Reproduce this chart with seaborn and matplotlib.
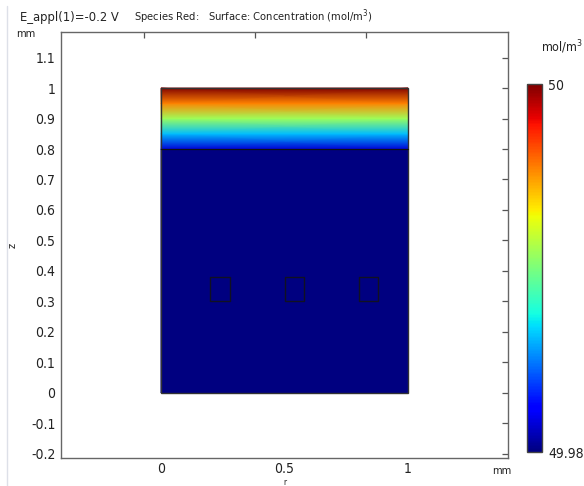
import numpy as np
import matplotlib
matplotlib.use("Agg")
import matplotlib.pyplot as plt
from matplotlib.patches import Rectangle
from matplotlib.colors import Normalize
import seaborn as sns

# Concentration of species Red (mol/m^3)
c_min, c_max = 49.98, 50.0
bulk_conc = 49.98                      # electrolyte below z = 0.8 mm
z_profile = [0.80, 0.85, 0.90, 0.95, 1.00]   # mm, diffusion layer
c_profile = [49.9815, 49.9862, 49.9908, 49.9954, 50.0]
domain_r = [0.0, 1.0]
domain_z = [0.0, 1.0]
# electrode squares (r0, z0) with side length in mm
electrode_r = [0.20, 0.50, 0.80]
electrode_z = [0.30, 0.30, 0.30]
electrode_w, electrode_h = 0.08, 0.08

x_ticks = [0, 0.5, 1]
x_ticklabels = ["0", "0.5", "1"]
y_ticks = [-0.2, -0.1, 0, 0.1, 0.2, 0.3, 0.4, 0.5, 0.6, 0.7, 0.8, 0.9, 1.0, 1.1]
y_ticklabels = ["-0.2", "-0.1", "0", "0.1", "0.2", "0.3", "0.4", "0.5",
                "0.6", "0.7", "0.8", "0.9", "1", "1.1"]

sns.set_theme(style="white")
plt.rcParams["font.family"] = ["DejaVu Sans"]
plt.rcParams["font.stretch"] = "condensed"

W, H = 584, 486
fig = plt.figure(figsize=(W / 100, H / 100), dpi=100)
ax = fig.add_axes([61 / W, 1 - 458 / H, (508 - 61) / W, (458 - 32) / H])

cmap = matplotlib.colormaps["jet"]
norm = Normalize(vmin=c_min, vmax=c_max)

# bulk region
rr, zz = np.meshgrid(domain_r, [domain_z[0], z_profile[0]])
ax.pcolormesh(rr, zz, np.full(rr.shape, bulk_conc), cmap=cmap, norm=norm,
              shading="gouraud", rasterized=True)
# diffusion layer
rr2, zz2 = np.meshgrid(domain_r, z_profile)
cc2 = np.repeat(np.array(c_profile)[:, None], len(domain_r), axis=1)
ax.pcolormesh(rr2, zz2, cc2, cmap=cmap, norm=norm, shading="gouraud",
              rasterized=True)

# geometry edges
ax.add_patch(Rectangle((domain_r[0], domain_z[0]), domain_r[1] - domain_r[0],
                       domain_z[1] - domain_z[0], fill=False,
                       edgecolor="#333333", lw=1.0))
ax.plot(domain_r, [z_profile[0], z_profile[0]], color="#111111", lw=0.9)
for r0, z0 in zip(electrode_r, electrode_z):
    ax.add_patch(Rectangle((r0, z0), electrode_w, electrode_h, fill=False,
                           edgecolor="#111122", lw=1.0))

ax.set_xlim(-0.405, 1.405)
ax.set_ylim(-0.214, 1.184)
ax.set_xticks(x_ticks)
ax.set_xticklabels(x_ticklabels)
ax.set_yticks(y_ticks)
ax.set_yticklabels(y_ticklabels)
ax.tick_params(direction="in", length=4, width=0.9, color="#555555",
               labelsize=10, labelcolor="#222222", pad=4,
               right=True, top=False)
ax.tick_params(axis="x", pad=3)
for s in ax.spines.values():
    s.set_color("#666666")
    s.set_linewidth(1.0)

# top-edge ticks
sec = ax.secondary_xaxis("top")
sec.set_xticks([-0.069, 0.38, 0.83])
sec.set_xticklabels([])
sec.tick_params(direction="in", length=4, width=0.9, color="#555555")
sec.spines["top"].set_visible(False)

# axis names and units
fig.text(285 / W, 1 - 482.5 / H, "r", fontsize=6, ha="center", va="center",
         color="#222222")
ax.set_ylabel("z", fontsize=8, labelpad=10, color="#222222")
fig.text(26 / W, 1 - 34 / H, "mm", fontsize=8, ha="center", va="center", color="#222222")
fig.text(502 / W, 1 - 471 / H, "mm", fontsize=8, ha="center", va="center", color="#222222")

fig.text(20 / W, 1 - 17 / H, "E_appl(1)=-0.2 V", fontsize=9.3, ha="left",
         va="center", color="#222222")
fig.text(134 / W, 1 - 17 / H,
         "Species Red:   Surface: Concentration (mol/m$^3$)", fontsize=8,
         ha="left", va="center", color="#222222")

# colour legend
cax = fig.add_axes([527 / W, 1 - 452 / H, 15 / W, (452 - 84) / H])
cb = fig.colorbar(matplotlib.cm.ScalarMappable(norm=norm, cmap=cmap), cax=cax)
cb.set_ticks([c_min, c_max])
cb.set_ticklabels(["49.98", "50"])
cax.tick_params(length=0, labelsize=10, pad=4.5, labelcolor="#222222")
cb.outline.set_edgecolor("#444444")
cb.outline.set_linewidth(1.0)
fig.text(562 / W, 1 - 47 / H, "mol/m$^3$", fontsize=9, ha="center",
         va="center", color="#222222")

# panel border on the left
fig.add_artist(plt.Line2D([7 / W, 7 / W], [0, 1 - 6 / H], color="#dde0e8",
                          lw=1.0))

fig.savefig("out.png", dpi=100)
